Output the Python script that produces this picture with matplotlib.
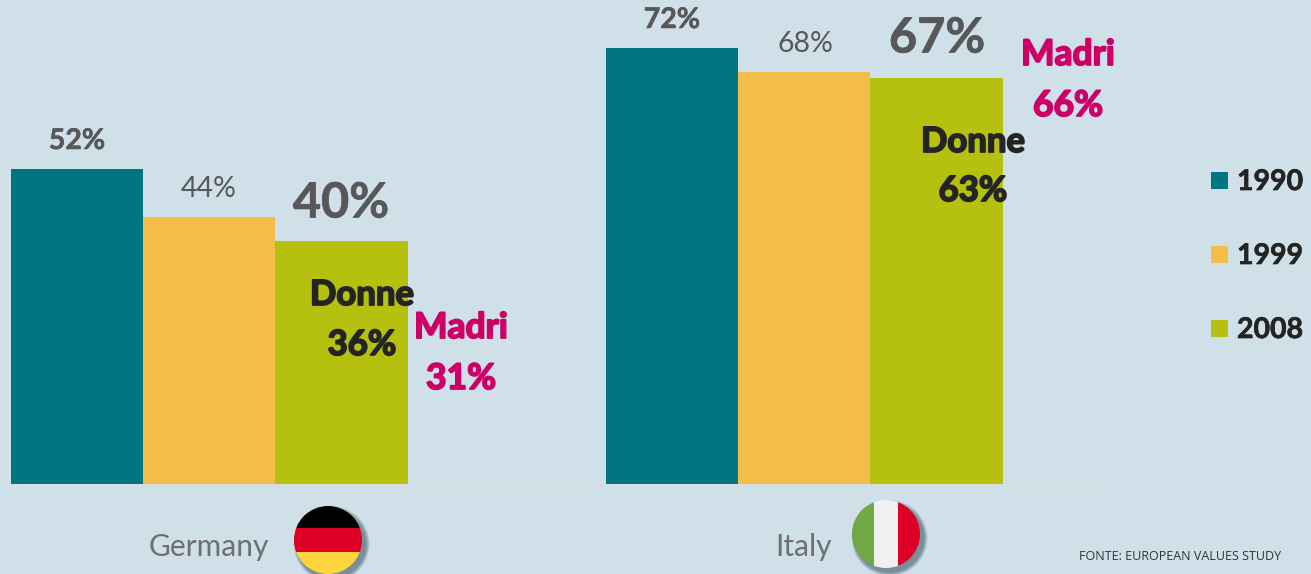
import matplotlib
matplotlib.use("Agg")
import matplotlib.pyplot as plt
import matplotlib.patheffects as pe
from matplotlib.patches import Circle, Rectangle

countries = ["Germany", "Italy"]
years = ["1990", "1999", "2008"]
v1990 = [52, 72]
v1999 = [44, 68]
v2008 = [40, 67]
women = [36, 63]
mothers = [31, 66]
source = "FONTE: EUROPEAN VALUES STUDY"

BG = "#cfe0e8"
COL = ["#007681", "#f2bd48", "#b6c00e"]
GREY = "#58585a"
DARK = "#242424"
PINK = "#cc0066"
FONT = "Lato"
W, H = 1311, 574

fig = plt.figure(figsize=(W / 100, H / 100), dpi=100, facecolor=BG)
ax = fig.add_axes([0, 0, 1, 1])
ax.set_facecolor(BG)
ax.set_xlim(0, W)
ax.set_ylim(-(H - 483.5) / 6.055, 483.5 / 6.055)
ax.axis("off")

# pixel-coordinate overlay for labels and decorations
px = fig.add_axes([0, 0, 1, 1])
px.set_xlim(0, W)
px.set_ylim(H, 0)
px.axis("off")
px.patch.set_alpha(0)


def t(x, y, s, size, color, weight="normal", ha="center", family=FONT, stroke=0):
    obj = px.text(x, y, s, fontsize=size, color=color, fontweight=weight, ha=ha, va="center", family=family)
    if stroke:
        obj.set_path_effects([pe.withStroke(linewidth=stroke, foreground=color)])


bw = 132.2
starts = [11, 606]
for i, name in enumerate(countries):
    for j, vals in enumerate((v1990, v1999, v2008)):
        ax.bar(starts[i] + j * bw, vals[i], width=bw, align="edge", color=COL[j], linewidth=0)

# axis line with end tick
px.plot([407, 1103, 1103], [484.5, 484.5, 493], color="#dcdcdc", lw=1.3, solid_capstyle="butt")
px.plot([11, 407], [484.5, 484.5], color="#dcdcdc", lw=1.3, solid_capstyle="butt")

# value labels
xs = [[77, 209, 341], [672, 805, 937]]
ys = [[141, 189, 203], [20, 44, 38]]
for i in range(2):
    t(xs[i][0], ys[i][0], f"{v1990[i]}%", 20.5, GREY, "bold", stroke=0.4)
    t(xs[i][1], ys[i][1], f"{v1999[i]}%", 20.5, GREY)
    t(xs[i][2], ys[i][2], f"{v2008[i]}%", 35, GREY, "bold", stroke=0.5)

t(362, 295, "Donne", 25, DARK, "bold", stroke=1.3)
t(362, 345, f"{women[0]}%", 25, DARK, "bold", stroke=1.3)
t(461, 328, "Madri", 25.5, PINK, "bold", stroke=1.3)
t(461, 379, f"{mothers[0]}%", 25.5, PINK, "bold", stroke=1.3)
t(973, 142, "Donne", 25, DARK, "bold", stroke=1.3)
t(973, 191, f"{women[1]}%", 25, DARK, "bold", stroke=1.3)
t(1068, 55, "Madri", 25.5, PINK, "bold", stroke=1.3)
t(1068, 106, f"{mothers[1]}%", 25.5, PINK, "bold", stroke=1.3)

# legend
for j, y in enumerate([180, 254, 328]):
    px.add_patch(Rectangle((1211, y - 8.5), 17, 17, color=COL[j], lw=0))
    t(1237, y + 2, years[j], 20.5, DARK, "bold", ha="left", stroke=0.5)

# country labels
t(209, 547, countries[0], 21.5, "#6d6f72")
t(804, 547, countries[1], 21.5, "#6d6f72")
t(1180, 557, source, 9, "#333333", family="Open Sans")


def flag(cx, cy, r, bands, vertical):
    for k in range(8, 0, -1):
        px.add_patch(Circle((cx + 3.5, cy + 4), r + k * 0.5, color="#304c5a", alpha=0.09, lw=0, zorder=3))
    clip = Circle((cx, cy), r, transform=px.transData)
    pos = -r
    for col, size in bands:
        if vertical:
            rect = Rectangle((cx + pos, cy - r), size, 2 * r, color=col, lw=0, zorder=4)
        else:
            rect = Rectangle((cx - r, cy + pos), 2 * r, size, color=col, lw=0, zorder=4)
        px.add_patch(rect)
        rect.set_clip_path(clip)
        pos += size


flag(328, 540, 34, [("#000000", 22), ("#dd0027", 24), ("#ffd53d", 22)], False)
flag(886, 534, 34, [("#70a845", 22), ("#f0f0f0", 24), ("#dd0027", 22)], True)

fig.savefig("out.png", dpi=100, facecolor=BG)
